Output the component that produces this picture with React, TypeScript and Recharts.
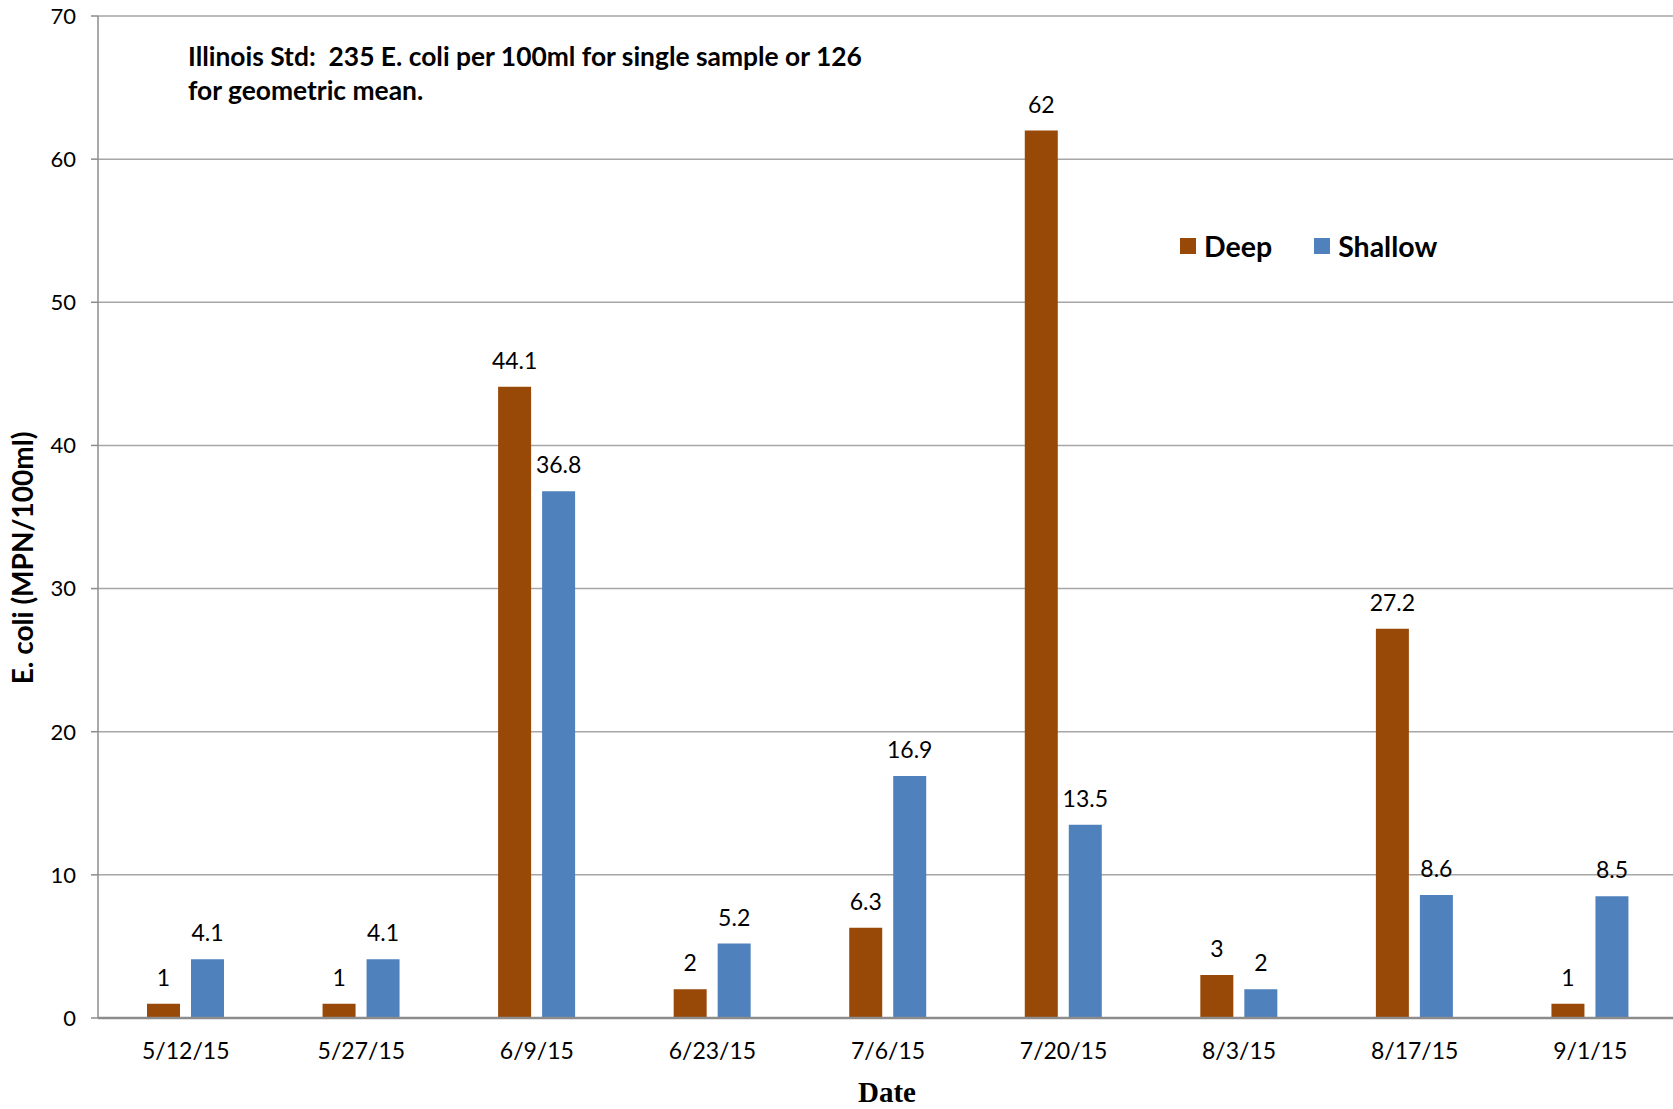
import React from 'react';
import { BarChart, Bar, XAxis, YAxis, CartesianGrid, LabelList } from 'recharts';

const dates = ['5/12/15', '5/27/15', '6/9/15', '6/23/15', '7/6/15', '7/20/15', '8/3/15', '8/17/15', '9/1/15'];
const deep = [1, 1, 44.1, 2, 6.3, 62, 3, 27.2, 1];
const shallow = [4.1, 4.1, 36.8, 5.2, 16.9, 13.5, 2, 8.6, 8.5];
const yTicks = [0, 10, 20, 30, 40, 50, 60, 70];

const DEEP_COLOR = '#984807';
const SHALLOW_COLOR = '#4F81BD';
const FONT = 'Lato, "Open Sans", sans-serif';

const data = dates.map((d, i) => ({ date: d, Deep: deep[i], Shallow: shallow[i] }));

const legendItems = [
  { name: 'Deep', color: DEEP_COLOR },
  { name: 'Shallow', color: SHALLOW_COLOR },
];

export default function App() {
  return (
    <div style={{ position: 'absolute', left: 0, top: 0, width: 1673, height: 1109, background: '#fff', overflow: 'hidden' }}>
      <BarChart
        width={1678}
        height={1109}
        data={data}
        margin={{ top: 16, right: 0, left: 0, bottom: 0 }}
        barGap={11}
        barSize={33}
      >
        <CartesianGrid horizontal vertical={false} stroke="#A6A6A6" strokeWidth={1.5} />
        <XAxis
          dataKey="date"
          height={91}
          tickLine={false}
          tickSize={0}
          tickMargin={25}
          axisLine={{ stroke: '#8C8C8C', strokeWidth: 2.5 }}
          tick={{ fill: '#000', fontSize: 23, fontFamily: FONT }}
          interval={0}
        />
        <YAxis
          width={98}
          domain={[0, 70]}
          ticks={yTicks}
          interval={0}
          tickSize={7}
          tickMargin={15}
          tickLine={{ stroke: '#8C8C8C', strokeWidth: 1.5 }}
          axisLine={{ stroke: '#8C8C8C', strokeWidth: 1.5 }}
          tick={{ fill: '#000', fontSize: 22, fontFamily: FONT }}
        />
        <Bar dataKey="Deep" fill={DEEP_COLOR} isAnimationActive={false}>
          <LabelList dataKey="Deep" position="top" offset={18} fill="#000" fontSize={23} fontFamily={FONT} />
        </Bar>
        <Bar dataKey="Shallow" fill={SHALLOW_COLOR} isAnimationActive={false}>
          <LabelList dataKey="Shallow" position="top" offset={18} fill="#000" fontSize={23} fontFamily={FONT} />
        </Bar>
      </BarChart>
      <div
        style={{
          position: 'absolute',
          left: 1180,
          top: 229,
          display: 'flex',
          alignItems: 'center',
          fontFamily: FONT,
          fontWeight: 700,
          fontSize: 28.5,
          color: '#000',
          lineHeight: '34px',
        }}
      >
        {legendItems.map((it, i) => (
          <div key={it.name} style={{ display: 'flex', alignItems: 'center', marginRight: i === 0 ? 42 : 0 }}>
            <div style={{ width: 16, height: 16, background: it.color, marginRight: 8 }} />
            <span>{it.name}</span>
          </div>
        ))}
      </div>
      <svg width={1673} height={1109} style={{ position: 'absolute', left: 0, top: 0, pointerEvents: 'none' }}>
        <text x={188} y={66} fontFamily={FONT} fontWeight={700} fontSize={26.4} fill="#000">
          Illinois Std:{'\u00A0\u00A0'}235 E. coli per 100ml for single sample or 126
        </text>
        <text x={188} y={100} fontFamily={FONT} fontWeight={700} fontSize={26.4} fill="#000">
          for geometric mean.
        </text>
        <text
          transform="translate(33, 558) rotate(-90)"
          textAnchor="middle"
          fontFamily={FONT}
          fontWeight={700}
          fontSize={28}
          fill="#000"
        >
          E. coli (MPN/100ml)
        </text>
        <text x={887} y={1102} textAnchor="middle" fontFamily='"Liberation Serif", "Times New Roman", serif' fontWeight={700} fontSize={29} fill="#000">
          Date
        </text>
      </svg>
    </div>
  );
}
